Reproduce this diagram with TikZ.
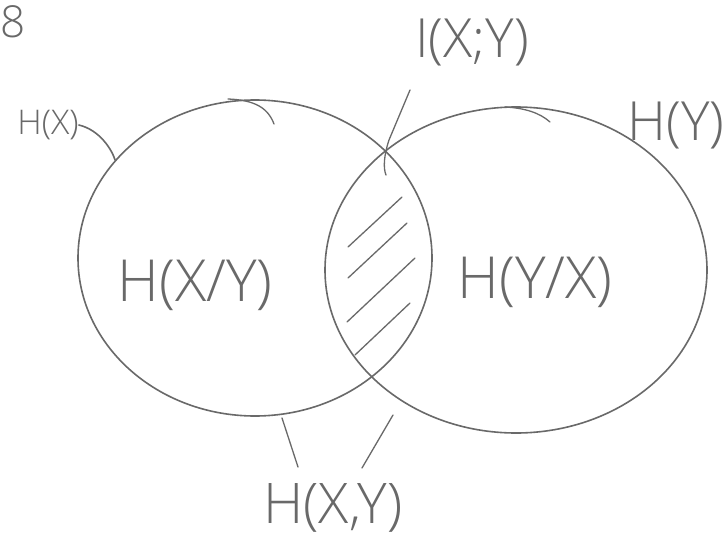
\documentclass[tikz,border=0pt]{standalone}
\usepackage{fontspec}
\setmainfont{Open Sans Light}[BoldFont={Open Sans}]
\usetikzlibrary{shapes.geometric}
\definecolor{pencil}{RGB}{105,105,105}
\begin{document}
\begin{tikzpicture}[x=1pt,y=-1pt,
  pen/.style={draw=pencil,line width=1.6pt,line cap=round},
  thin pen/.style={draw=pencil,line width=1.3pt,line cap=round},
  lbl/.style={text=pencil,inner sep=0pt,font=\fontsize{#1}{#1}\selectfont},
  setshape/.style={ellipse,draw=pencil,line width=1.6pt,inner sep=0pt}]
\useasboundingbox (0,0) rectangle (723,538);
\fill[white] (0,0) rectangle (723,538);
% sets
\node[setshape,minimum width=354pt,minimum height=316pt] (cx) at (255,258) {};
\node[setshape,minimum width=382pt,minimum height=326pt] (cy) at (516,270) {};
% pen flicks
\draw[thin pen] (228,99) .. controls (255,100) and (268,108) .. (274,124);
\draw[thin pen] (505,107) .. controls (525,108) and (540,113) .. (550,122);
% hatching
\draw[thin pen] (348,247) -- (402,197);
\draw[thin pen] (348,278) -- (407,223);
\draw[thin pen] (347,322) -- (415,258);
\draw[thin pen] (355,355) -- (410,303);
% labels
\node[lbl=44] (num) at (13,22) {8};
\node[lbl=54] (ixy) at (472,42) {I(X;Y)};
\node[lbl=54] (hy) at (676,125) {H(Y)};
\node[lbl=34] (hx) at (48,125) {H(X)};
\node[lbl=58] (hxgy) at (195,285) {H(X/Y)};
\node[lbl=58] (hygx) at (535,282) {H(Y/X)};
\node[lbl=56] (hxy) at (333,508) {H(X,Y)};
% connectors
\coordinate (hxend) at (cx.145);
\draw[pen] (hx.east) .. controls (100,130) and (112,150) .. (hxend);
\coordinate (itop) at (410,90);
\coordinate (ibot) at (386,175);
\draw[thin pen] (itop) -- (389,140) .. controls (384,155) and (383,168) .. (ibot);
\coordinate (ja) at (282,418);
\coordinate (jb) at (393,415);
\coordinate (jc) at (298,467);
\coordinate (jd) at (362,468);
\draw[thin pen] (ja) -- (jc);
\draw[thin pen] (jb) -- (jd);
\end{tikzpicture}
\end{document}
